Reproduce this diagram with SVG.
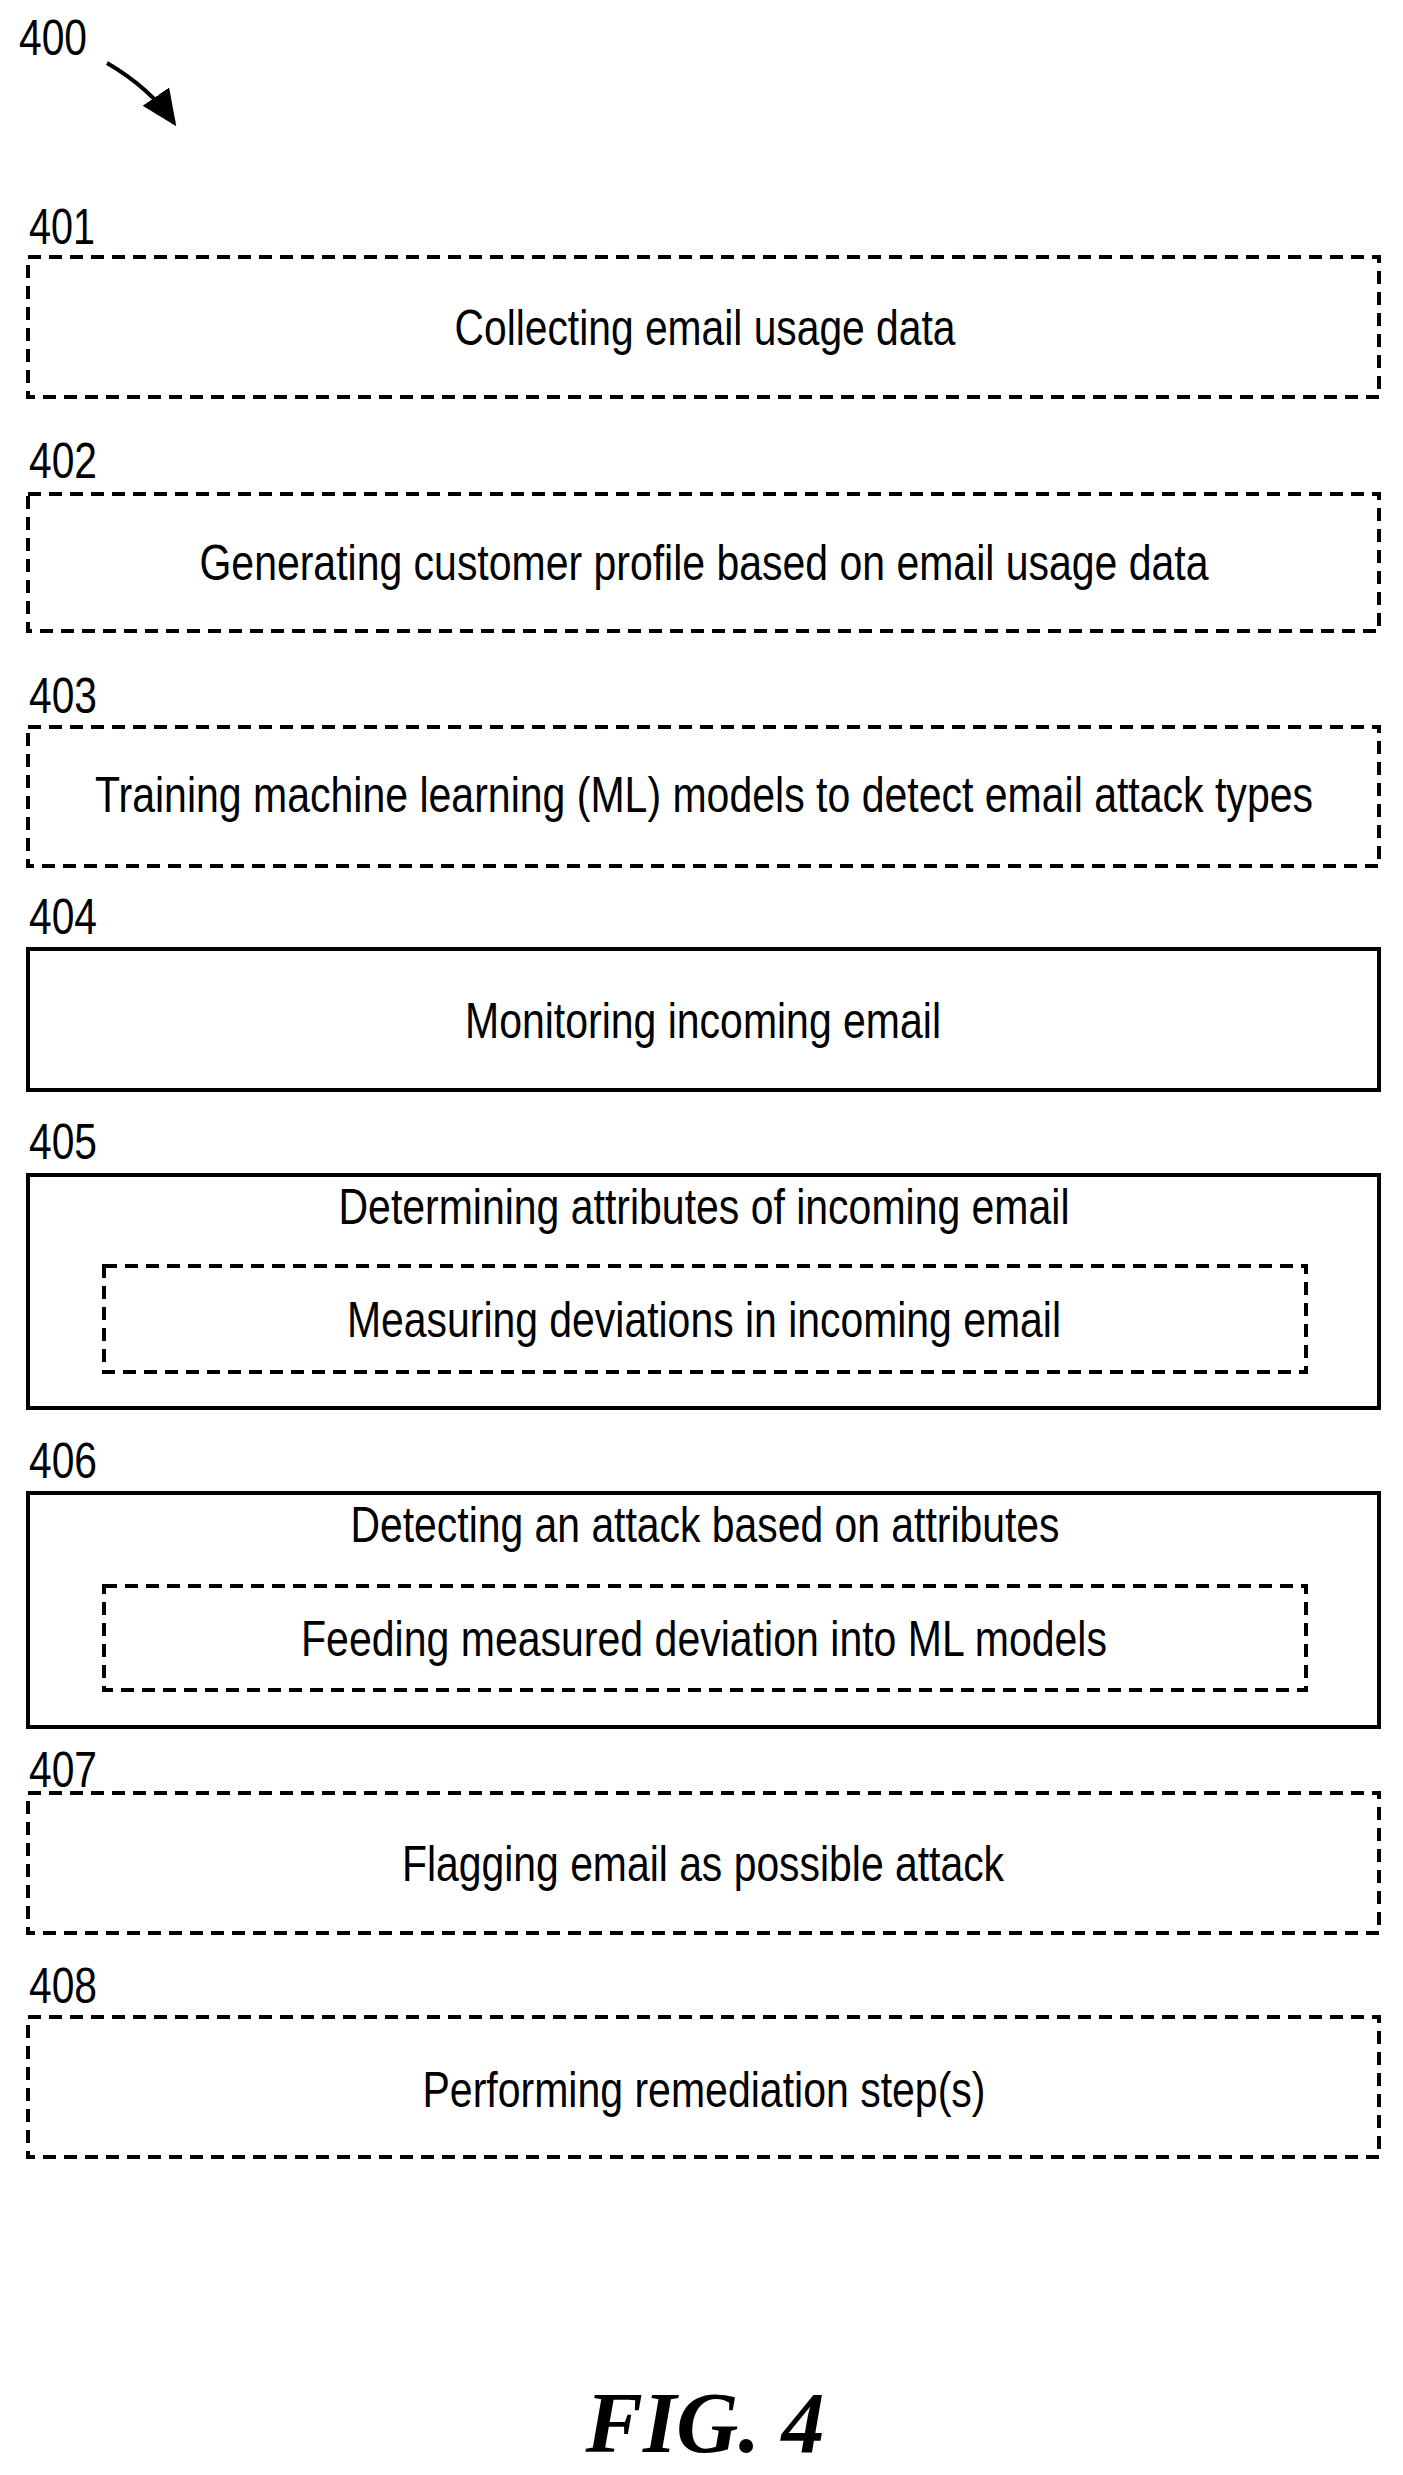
<svg xmlns="http://www.w3.org/2000/svg" width="1403" height="2475" viewBox="0 0 1403 2475">
<style>
.t{font-family:"Liberation Sans Narrow","Liberation Sans",Arial,sans-serif;font-size:50px;fill:#000}
.m{text-anchor:middle}
.d{fill:none;stroke:#000;stroke-width:4;stroke-dasharray:13 8}
.s{fill:none;stroke:#000;stroke-width:4}
</style>
<defs><marker id="ah" markerWidth="10" markerHeight="10" refX="8" refY="5" orient="auto" markerUnits="strokeWidth"><path d="M0,1 L9,5 L0,9 z" fill="#000"/></marker></defs>
<rect width="1403" height="2475" fill="#fff"/>
<text class="t" x="19" y="55" textLength="68" lengthAdjust="spacingAndGlyphs">400</text>
<g id="connectors"><path d="M107,63 Q150,88 174,123" fill="none" stroke="#000" stroke-width="4" marker-end="url(#ah)"/></g>
<g id="n401"><text class="t" x="29" y="244" textLength="66" lengthAdjust="spacingAndGlyphs">401</text><rect class="d" x="28" y="257" width="1351" height="140"/><text class="t m" x="705" y="345" textLength="501" lengthAdjust="spacingAndGlyphs">Collecting email usage data</text></g>
<g id="n402"><text class="t" x="29" y="478" textLength="68" lengthAdjust="spacingAndGlyphs">402</text><rect class="d" x="28" y="494" width="1351" height="137"/><text class="t m" x="704" y="580" textLength="1009" lengthAdjust="spacingAndGlyphs">Generating customer profile based on email usage data</text></g>
<g id="n403"><text class="t" x="29" y="713" textLength="68" lengthAdjust="spacingAndGlyphs">403</text><rect class="d" x="28" y="727" width="1351" height="139"/><text class="t m" x="704" y="812" textLength="1218" lengthAdjust="spacingAndGlyphs">Training machine learning (ML) models to detect email attack types</text></g>
<g id="n404"><text class="t" x="29" y="934" textLength="68" lengthAdjust="spacingAndGlyphs">404</text><rect class="s" x="28" y="949" width="1351" height="141"/><text class="t m" x="703" y="1038" textLength="476" lengthAdjust="spacingAndGlyphs">Monitoring incoming email</text></g>
<g id="n405"><text class="t" x="29" y="1159" textLength="68" lengthAdjust="spacingAndGlyphs">405</text><rect class="s" x="28" y="1175" width="1351" height="233"/><text class="t m" x="704" y="1224" textLength="731" lengthAdjust="spacingAndGlyphs">Determining attributes of incoming email</text><rect class="d" x="104" y="1266" width="1202" height="106"/><text class="t m" x="704" y="1337" textLength="714" lengthAdjust="spacingAndGlyphs">Measuring deviations in incoming email</text></g>
<g id="n406"><text class="t" x="29" y="1478" textLength="68" lengthAdjust="spacingAndGlyphs">406</text><rect class="s" x="28" y="1493" width="1351" height="234"/><text class="t m" x="705" y="1542" textLength="709" lengthAdjust="spacingAndGlyphs">Detecting an attack based on attributes</text><rect class="d" x="104" y="1586" width="1202" height="104"/><text class="t m" x="704" y="1656" textLength="806" lengthAdjust="spacingAndGlyphs">Feeding measured deviation into ML models</text></g>
<g id="n407"><text class="t" x="29" y="1787" textLength="68" lengthAdjust="spacingAndGlyphs">407</text><rect class="d" x="28" y="1793" width="1351" height="140"/><text class="t m" x="703" y="1881" textLength="602" lengthAdjust="spacingAndGlyphs">Flagging email as possible attack</text></g>
<g id="n408"><text class="t" x="29" y="2003" textLength="68" lengthAdjust="spacingAndGlyphs">408</text><rect class="d" x="28" y="2017" width="1351" height="140"/><text class="t m" x="704" y="2107" textLength="563" lengthAdjust="spacingAndGlyphs">Performing remediation step(s)</text></g>
<text x="705" y="2452" text-anchor="middle" font-family="Liberation Serif,serif" font-weight="bold" font-style="italic" font-size="86">FIG. 4</text>
</svg>
